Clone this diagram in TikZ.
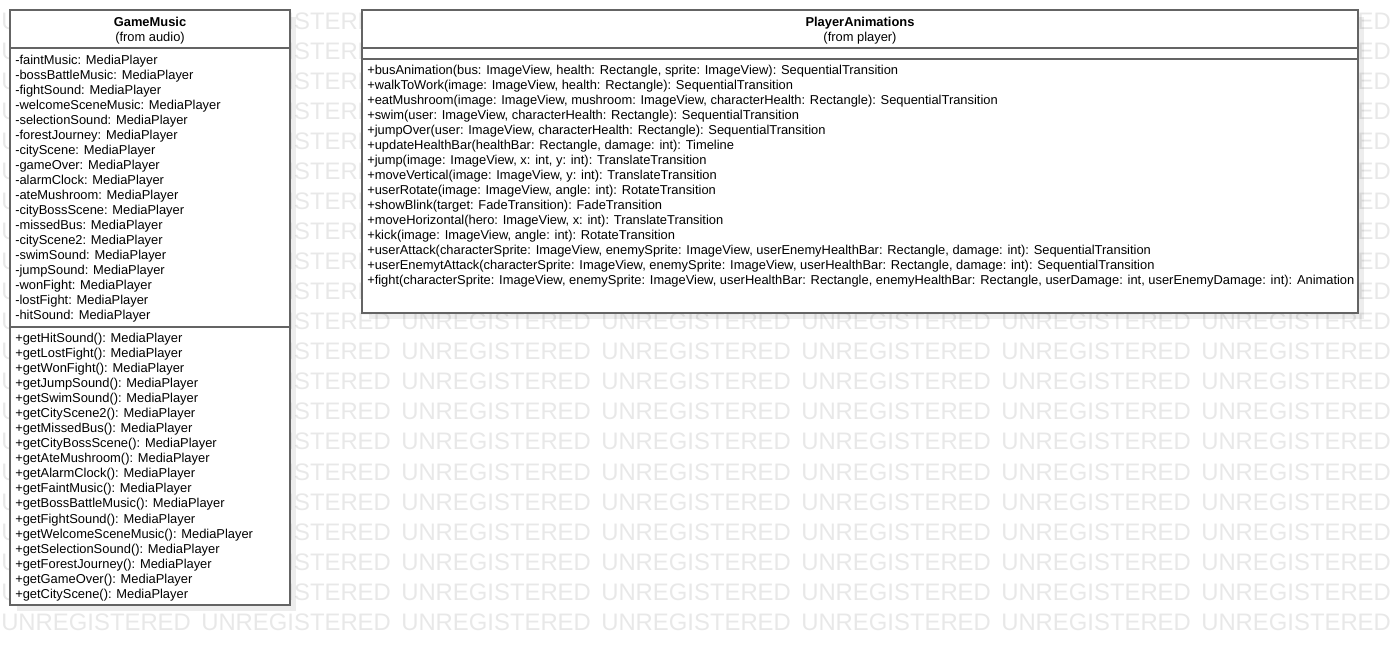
\documentclass[tikz,border=0pt]{standalone}
\usepackage{fontspec}
\setmainfont{Liberation Sans}
\definecolor{wmgray}{RGB}{232,232,232}
\definecolor{boxline}{RGB}{100,100,100}
\definecolor{shadowgray}{RGB}{0,0,0}
\begin{document}
\begin{tikzpicture}[x=0.75pt,y=-0.75pt,
  wm/.style={text=wmgray,font=\fontsize{17.9}{19}\selectfont,inner sep=0pt,anchor=base west},
  txt/.style={font=\fontsize{9.67}{11}\selectfont,inner sep=0pt,anchor=base west},
  ttl/.style={font=\fontsize{9.67}{11}\selectfont\bfseries,inner sep=0pt,anchor=base},
  sub/.style={font=\fontsize{9.67}{11}\selectfont,inner sep=0pt,anchor=base},
  umlbox/.style={draw=boxline,line width=1.3pt,fill=white},
  shadow/.style={fill=shadowgray,fill opacity=0.07,draw=none},
  divider/.style={draw=boxline,line width=1.3pt}]
\useasboundingbox (0,0) rectangle (1397,645);
% watermark
\foreach \r in {0,...,20}{
  \foreach \c in {0,...,6}{
    \node[wm] (wm-\r-\c) at (\c*200+1, 30+\r*30) {UNREGISTERED};
  }
}
% shadows
\fill[shadow] (17,17) rectangle (296,611);
\fill[shadow] (369,17) rectangle (1364,319);
% GameMusic box
\draw[umlbox] (10,10) rectangle (290,605);
\draw[divider] (10,48) -- (290,48);
\draw[divider] (10,327) -- (290,327);
\node[ttl] (gmt) at (150,27) {GameMusic};
\node[sub] (gms) at (150,42) {(from audio)};
\foreach \t [count=\i from 0] in {
-faintMusic: MediaPlayer,
-bossBattleMusic: MediaPlayer,
-fightSound: MediaPlayer,
-welcomeSceneMusic: MediaPlayer,
-selectionSound: MediaPlayer,
-forestJourney: MediaPlayer,
-cityScene: MediaPlayer,
-gameOver: MediaPlayer,
-alarmClock: MediaPlayer,
-ateMushroom: MediaPlayer,
-cityBossScene: MediaPlayer,
-missedBus: MediaPlayer,
-cityScene2: MediaPlayer,
-swimSound: MediaPlayer,
-jumpSound: MediaPlayer,
-wonFight: MediaPlayer,
-lostFight: MediaPlayer,
-hitSound: MediaPlayer}{
  \node[txt] (gma\i) at (15,65+\i*15) {\t};
}
\foreach \t [count=\i from 0] in {
+getHitSound(): MediaPlayer,
+getLostFight(): MediaPlayer,
+getWonFight(): MediaPlayer,
+getJumpSound(): MediaPlayer,
+getSwimSound(): MediaPlayer,
+getCityScene2(): MediaPlayer,
+getMissedBus(): MediaPlayer,
+getCityBossScene(): MediaPlayer,
+getAteMushroom(): MediaPlayer,
+getAlarmClock(): MediaPlayer,
+getFaintMusic(): MediaPlayer,
+getBossBattleMusic(): MediaPlayer,
+getFightSound(): MediaPlayer,
+getWelcomeSceneMusic(): MediaPlayer,
+getSelectionSound(): MediaPlayer,
+getForestJourney(): MediaPlayer,
+getGameOver(): MediaPlayer,
+getCityScene(): MediaPlayer}{
  \node[txt] (gmo\i) at (15,343+\i*15) {\t};
}
% PlayerAnimations box
\draw[umlbox] (362,10) rectangle (1358,313);
\draw[divider] (362,48) -- (1358,48);
\draw[divider] (362,59) -- (1358,59);
\node[ttl] (pat) at (860,27) {PlayerAnimations};
\node[sub] (pas) at (860,42) {(from player)};
\foreach \t [count=\i from 0] in {
{+busAnimation(bus: ImageView, health: Rectangle, sprite: ImageView): SequentialTransition},
{+walkToWork(image: ImageView, health: Rectangle): SequentialTransition},
{+eatMushroom(image: ImageView, mushroom: ImageView, characterHealth: Rectangle): SequentialTransition},
{+swim(user: ImageView, characterHealth: Rectangle): SequentialTransition},
{+jumpOver(user: ImageView, characterHealth: Rectangle): SequentialTransition},
{+updateHealthBar(healthBar: Rectangle, damage: int): Timeline},
{+jump(image: ImageView, x: int, y: int): TranslateTransition},
{+moveVertical(image: ImageView, y: int): TranslateTransition},
{+userRotate(image: ImageView, angle: int): RotateTransition},
{+showBlink(target: FadeTransition): FadeTransition},
{+moveHorizontal(hero: ImageView, x: int): TranslateTransition},
{+kick(image: ImageView, angle: int): RotateTransition},
{+userAttack(characterSprite: ImageView, enemySprite: ImageView, userEnemyHealthBar: Rectangle, damage: int): SequentialTransition},
{+userEnemytAttack(characterSprite: ImageView, enemySprite: ImageView, userHealthBar: Rectangle, damage: int): SequentialTransition},
{+fight(characterSprite: ImageView, enemySprite: ImageView, userHealthBar: Rectangle, enemyHealthBar: Rectangle, userDamage: int, userEnemyDamage: int): Animation}}{
  \node[txt] (pam\i) at (367,75+\i*15) {\t};
}
\end{tikzpicture}
\end{document}
